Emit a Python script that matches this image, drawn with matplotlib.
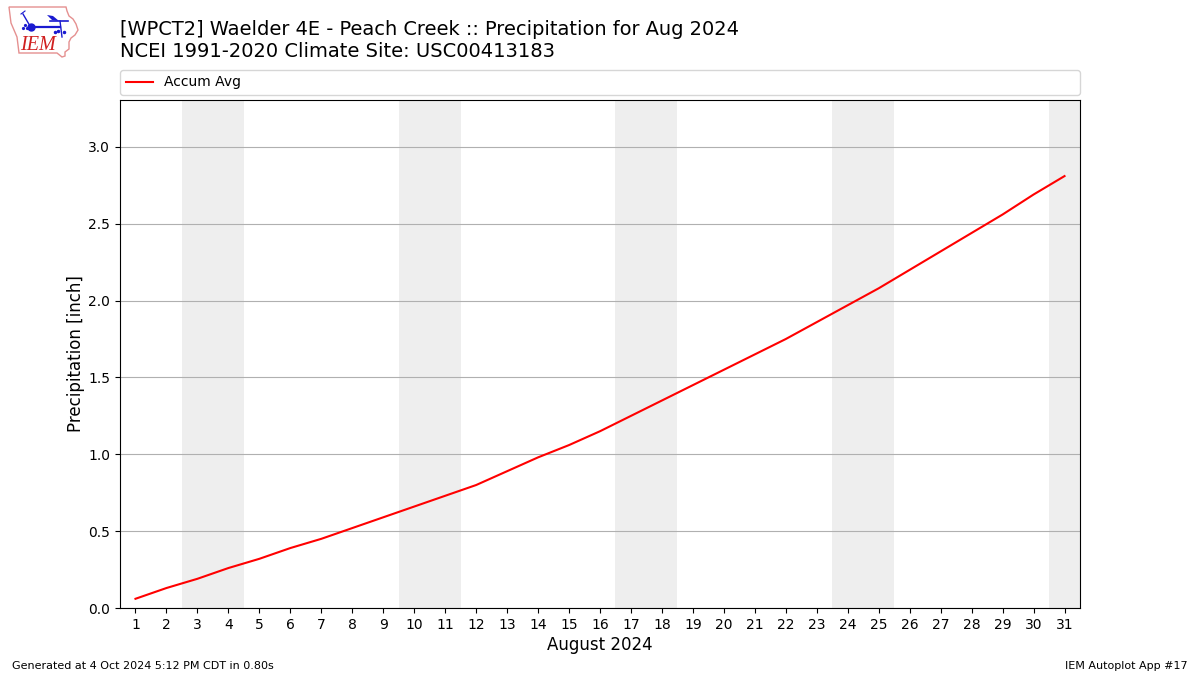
# libraries
import matplotlib
matplotlib.use('Agg')
import matplotlib.pyplot as plt
from matplotlib.patches import Polygon

# data
days = list(range(1, 32))
accum_avg = [0.06, 0.13, 0.19, 0.26, 0.32, 0.39, 0.45, 0.52, 0.59, 0.66, 0.73,
             0.80, 0.89, 0.98, 1.06, 1.15, 1.25, 1.35, 1.45, 1.55, 1.65, 1.75,
             1.86, 1.97, 2.08, 2.20, 2.32, 2.44, 2.56, 2.69, 2.81]
weekend_starts = [3, 10, 17, 24, 31]
yticks = [0.0, 0.5, 1.0, 1.5, 2.0, 2.5, 3.0]

fig = plt.figure(figsize=(12, 6.75), dpi=100)
ax = fig.add_axes([120 / 1200, 1 - 608 / 675, 960 / 1200, 508 / 675])

# weekends
for start in weekend_starts:
    ax.axvspan(start - 0.5, start + 1.5, color='#eeeeee', lw=0, zorder=0)

ax.plot(days, accum_avg, color='red', label='Accum Avg', zorder=3)

ax.set_xlim(0.5, 31.5)
ax.set_ylim(0, 3.305)
ax.set_xticks(days)
ax.set_yticks(yticks)
ax.grid(axis='y', color='#b0b0b0', lw=0.8)
ax.set_axisbelow(True)
ax.set_xlabel('August 2024', fontsize=12, labelpad=3)
ax.set_ylabel('Precipitation [inch]', fontsize=12)
ax.yaxis.set_label_coords(-35 / 960, 0.5)

# legend box runs the full width of the axes, 5 px above it
ax.legend(loc='lower left', bbox_to_anchor=(0, 1 + 5 / 508, 1, 0.05), mode='expand',
          borderaxespad=0, ncol=1, fontsize=10)

# titles and footer
fig.text(120 / 1200, 1 - 29.5 / 675, '[WPCT2] Waelder 4E - Peach Creek :: Precipitation for Aug 2024',
         fontsize=13.98, va='center')
fig.text(120 / 1200, 1 - 51.5 / 675, 'NCEI 1991-2020 Climate Site: USC00413183',
         fontsize=14, va='center')
fig.text(12 / 1200, 1 - 666 / 675, 'Generated at 4 Oct 2024 5:12 PM CDT in 0.80s',
         fontsize=8, va='center')
fig.text(1188 / 1200, 1 - 666 / 675, 'IEM Autoplot App #17',
         fontsize=8, va='center', ha='right')

# logo, drawn in pixel coordinates
logo = fig.add_axes([0, 1 - 60 / 675, 90 / 1200, 60 / 675])
logo.set_xlim(0, 90)
logo.set_ylim(60, 0)
logo.axis('off')
outline = [(9, 7), (66, 7), (67, 11), (69, 16), (73, 19), (76, 24), (78, 30),
           (75, 35), (71, 38), (69, 42), (69, 49), (65, 52), (65, 56), (62, 57),
           (57, 53), (19, 53), (18, 45), (17, 37), (14, 30), (11, 23), (10, 15)]
blue = '#1a1ad0'
logo.add_patch(Polygon(outline, closed=True, fill=False, ec='#e59090', lw=1))
logo.plot([31, 60], [27, 27], color=blue, lw=1.6)
logo.plot([60, 62], [21, 37], color=blue, lw=1)
logo.plot([50, 68], [21, 21], color=blue, lw=1.2)
logo.plot([23, 30], [14, 26], color=blue, lw=1)
logo.plot([21, 25], [14, 11], color=blue, lw=0.8)
logo.plot([31], [27], marker='o', ms=5, color=blue)
logo.plot([23, 25, 27], [28, 25, 28], ls='none', marker='o', ms=1.3, color=blue)
logo.plot([55, 58, 64], [32, 31, 32], ls='none', marker='o', ms=1.5, color=blue)
logo.add_patch(Polygon([(47, 15), (53, 16), (59, 21), (52, 20)], closed=True, fc=blue, ec='none'))
logo.text(20.5, 46, 'IEM', color='#d02020', fontsize=14.5, family='Liberation Serif',
          style='italic', va='center')

fig.savefig('out.png', dpi=100)
